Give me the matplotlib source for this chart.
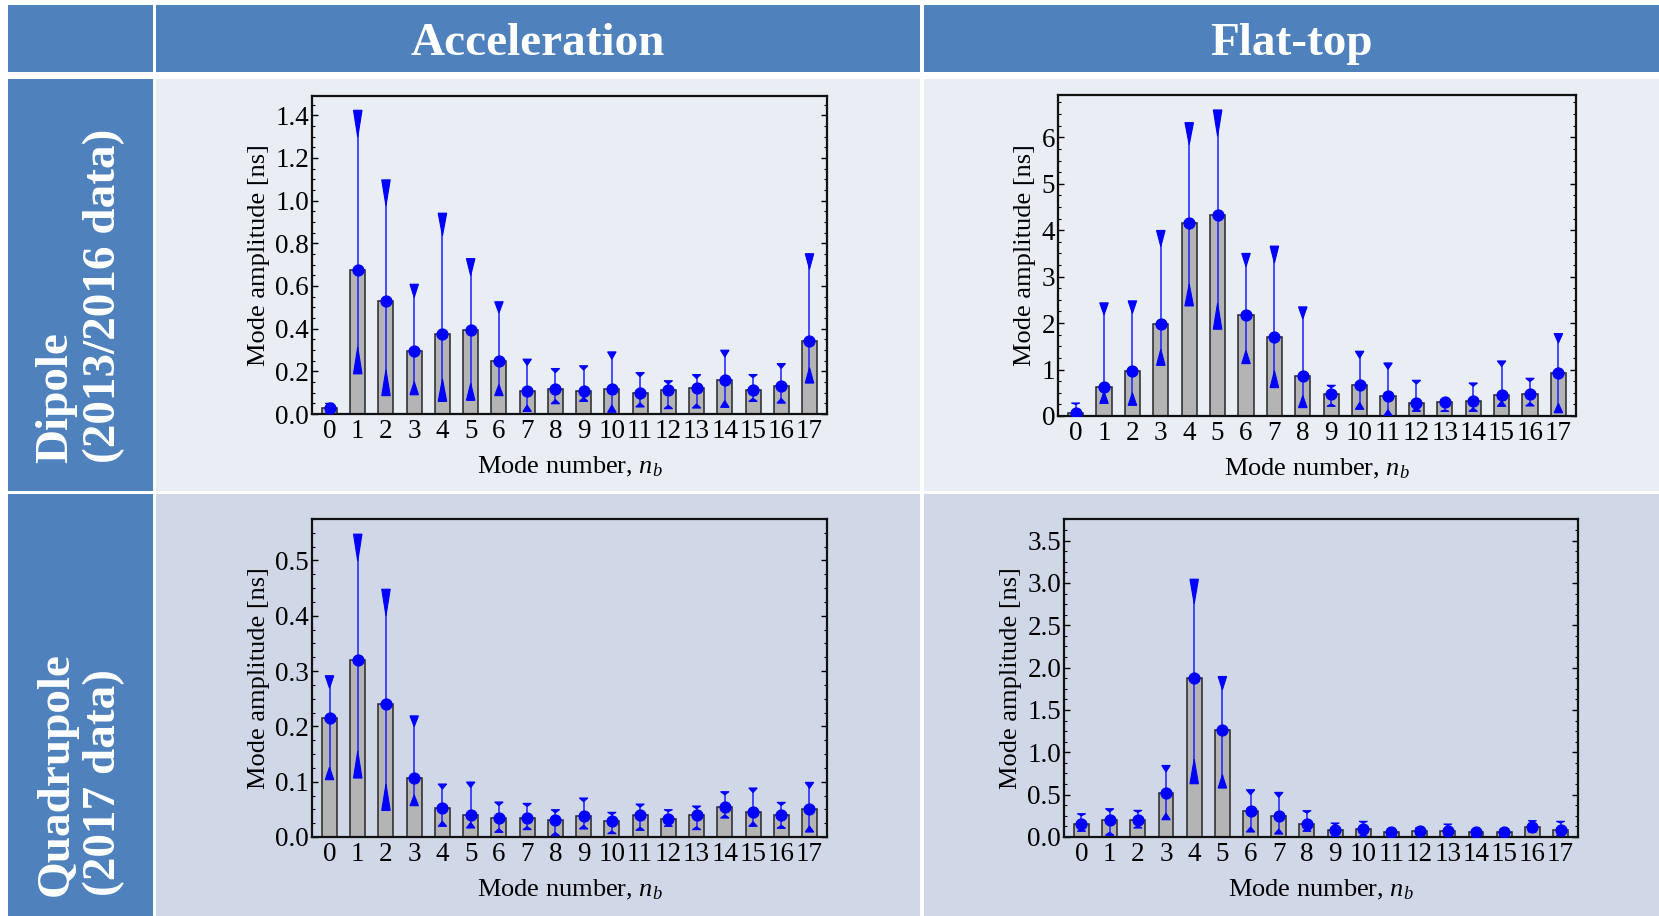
import numpy as np
import matplotlib.pyplot as plt
from matplotlib.patches import Rectangle
from matplotlib.ticker import MultipleLocator, AutoMinorLocator, FormatStrFormatter

plt.rcParams['font.family'] = ['Liberation Serif', 'DejaVu Serif']
plt.rcParams['mathtext.fontset'] = 'custom'
plt.rcParams['mathtext.rm'] = 'Liberation Serif'
plt.rcParams['mathtext.it'] = 'Liberation Serif:italic'

modes = np.arange(18)

# dipole oscillations, acceleration
dip_acc = [0.027, 0.677, 0.530, 0.297, 0.375, 0.394, 0.249, 0.109, 0.118, 0.109,
           0.117, 0.098, 0.114, 0.123, 0.157, 0.114, 0.132, 0.342]
dip_acc_hi = [0.050, 1.423, 1.097, 0.608, 0.941, 0.728, 0.526, 0.257, 0.213, 0.226,
              0.291, 0.194, 0.156, 0.185, 0.299, 0.185, 0.236, 0.751]
dip_acc_lo = [0.005, 0.188, 0.086, 0.090, 0.059, 0.064, 0.086, 0.012, 0.048, 0.059,
              0.008, 0.033, 0.025, 0.028, 0.031, 0.059, 0.051, 0.145]

# dipole oscillations, flat-top
dip_ft = [0.07, 0.625, 0.977, 1.983, 4.145, 4.325, 2.17, 1.703, 0.869, 0.481,
          0.675, 0.438, 0.28, 0.295, 0.316, 0.453, 0.481, 0.934]
dip_ft_hi = [0.28, 2.435, 2.478, 3.994, 6.315, 6.588, 3.50, 3.657, 2.349, 0.661,
             1.394, 1.142, 0.769, 0.36, 0.711, 1.185, 0.812, 1.774]
dip_ft_lo = [0.0, 0.27, 0.23, 1.09, 2.37, 1.868, 1.128, 0.611, 0.18, 0.208,
             0.144, 0.0, 0.10, 0.10, 0.10, 0.208, 0.216, 0.07]

# quadrupole oscillations, acceleration
quad_acc = [0.215, 0.3205, 0.241, 0.1066, 0.0518, 0.0398, 0.0343, 0.0337, 0.0301, 0.0373,
            0.0283, 0.0392, 0.0325, 0.0398, 0.0542, 0.0452, 0.0404, 0.0512]
quad_acc_hi = [0.2916, 0.5476, 0.448, 0.219, 0.0958, 0.0994, 0.0633, 0.0608, 0.0494, 0.0705,
               0.0446, 0.0596, 0.0494, 0.056, 0.0819, 0.0886, 0.0627, 0.0988]
quad_acc_lo = [0.1036, 0.1066, 0.048, 0.0566, 0.0193, 0.0163, 0.0084, 0.0133, 0.0024, 0.0145,
               0.006, 0.012, 0.0193, 0.0133, 0.0343, 0.0193, 0.0157, 0.009]

# quadrupole oscillations, flat-top
quad_ft = [0.157, 0.197, 0.197, 0.519, 1.876, 1.266, 0.303, 0.252, 0.157, 0.087,
           0.094, 0.059, 0.067, 0.067, 0.055, 0.059, 0.114, 0.079]
quad_ft_hi = [0.275, 0.334, 0.315, 0.845, 3.044, 1.895, 0.558, 0.527, 0.311, 0.165,
              0.185, 0.079, 0.106, 0.153, 0.075, 0.098, 0.193, 0.185]
quad_ft_lo = [0.067, 0.02, 0.106, 0.204, 0.629, 0.578, 0.059, 0.035, 0.067, 0.008,
              0.008, 0.031, 0.028, 0.016, 0.028, 0.028, 0.059, 0.016]

col_titles = ['Acceleration', 'Flat-top']
row_titles = ['Dipole\n(2013/2016 data)', 'Quadrupole\n(2017 data)']

W, H = 1659, 916
fig = plt.figure(figsize=(W / 100, H / 100), dpi=100)
fig.patch.set_facecolor('white')

BLUE = '#4f81bd'
BAND1 = '#e9edf4'
BAND2 = '#d0d8e8'


def frac(x0, y0, x1, y1):
    return [x0 / W, 1 - y1 / H, (x1 - x0) / W, (y1 - y0) / H]


def cell(x0, y0, x1, y1, color):
    l, b, w, h = frac(x0, y0, x1, y1)
    fig.add_artist(Rectangle((l, b), w, h, transform=fig.transFigure,
                             facecolor=color, edgecolor='none', zorder=0))


cols = [(8, 153), (156, 920), (924, 1659)]
rows = [(5, 72), (79, 491), (494, 916)]
for ri, (y0, y1) in enumerate(rows):
    for ci, (x0, x1) in enumerate(cols):
        if ri == 0 or ci == 0:
            c = BLUE
        else:
            c = BAND1 if ri == 1 else BAND2
        cell(x0, y0, x1, y1, c)

for (x0, x1), t in zip(cols[1:], col_titles):
    fig.text((x0 + x1) / 2 / W, 1 - 55 / H, t, ha='center', va='baseline',
             color='white', fontsize=34, fontweight='bold')

for yc, t in zip([296, 774], row_titles):
    fig.text(80 / W, 1 - yc / H, t, ha='center', va='center', rotation=90,
             multialignment='left', linespacing=1.15,
             color='white', fontsize=34, fontweight='bold')

panels = [
    ((312, 96, 827, 414), dip_acc, dip_acc_hi, dip_acc_lo, 1.49, 0.2, '%.1f'),
    ((1058, 95, 1576, 416), dip_ft, dip_ft_hi, dip_ft_lo, 6.91, 1.0, '%d'),
    ((312, 519, 827, 837), quad_acc, quad_acc_hi, quad_acc_lo, 0.575, 0.1, '%.1f'),
    ((1064, 519, 1578, 837), quad_ft, quad_ft_hi, quad_ft_lo, 3.755, 0.5, '%.1f'),
]

for pos, val, hi, lo, ytop, step, fmt in panels:
    ax = fig.add_axes(frac(*pos))
    ax.set_facecolor('none')
    val, hi, lo = np.array(val), np.array(hi), np.array(lo)

    ax.bar(modes, val, width=0.53, color='#b4b4b4', edgecolor='#262626',
           linewidth=1.1, zorder=2)
    ax.vlines(modes, lo, hi, color='#1f1fff', linewidth=1.1, zorder=3)

    # wedge-shaped ends of the error bars
    wedge = np.minimum(0.12 * (hi - lo), 0.085 * ytop)
    hw = 0.15
    for x, h_, l_, L in zip(modes, hi, lo, wedge):
        ax.fill([x - hw, x + hw, x], [h_, h_, h_ - L], color='#0000ff',
                linewidth=0.8, zorder=3)
        ax.fill([x - hw, x + hw, x], [l_, l_, l_ + L], color='#0000ff',
                linewidth=0.8, zorder=3)
    ax.plot(modes, val, 'o', color='#0000ff', markersize=7.8, zorder=4)

    ax.set_xlim(-0.62, 17.62)
    ax.set_ylim(0, ytop)
    ax.set_xticks(modes)
    ax.yaxis.set_major_locator(MultipleLocator(step))
    ax.yaxis.set_minor_locator(AutoMinorLocator(4))
    ax.yaxis.set_major_formatter(FormatStrFormatter(fmt))
    ax.tick_params(axis='x', length=0, pad=3.5, labelsize=19.5)
    ax.tick_params(axis='y', which='both', direction='in', left=True, right=True,
                   labelsize=19.5, pad=2)
    ax.tick_params(axis='y', which='major', length=4, width=1)
    ax.tick_params(axis='y', which='minor', length=2, width=0.8)
    for s in ax.spines.values():
        s.set_linewidth(1.6)
        s.set_color('#111111')

    ax.set_xlabel('Mode number, $n_b$', fontsize=19, labelpad=8)
    ax.set_ylabel('Mode amplitude [ns]', fontsize=19, labelpad=4)

fig.savefig('out.png', dpi=100)
